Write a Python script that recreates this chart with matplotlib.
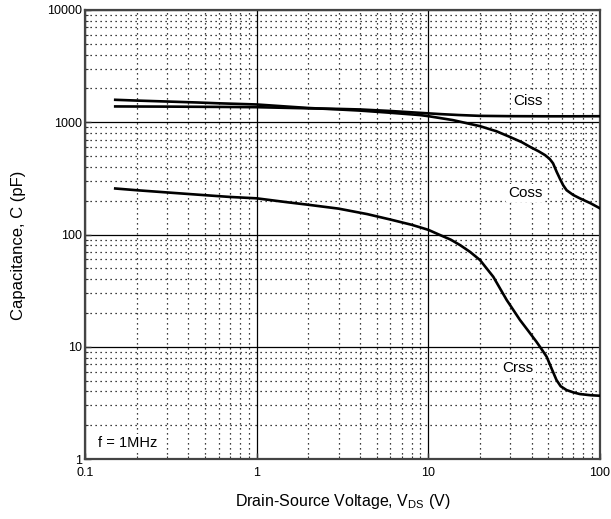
import matplotlib
matplotlib.use("Agg")
import matplotlib.pyplot as plt
from matplotlib.ticker import LogLocator, NullFormatter

plt.rcParams['font.family'] = ['Liberation Sans', 'DejaVu Sans']
plt.rcParams['mathtext.fontset'] = 'custom'
plt.rcParams['mathtext.rm'] = 'Liberation Sans'

ciss_v = [0.15, 0.3, 0.6, 1.0, 2.0, 3.0, 4.0, 6.0, 8.93, 12, 15, 20, 30, 50, 70, 100]
ciss_c = [1383, 1378, 1370, 1362, 1330, 1315, 1300, 1260, 1213, 1180, 1160, 1140, 1133, 1130, 1130, 1132]

coss_v = [0.15, 0.2, 0.3, 0.45, 0.6, 1.0, 1.5, 2.0, 3.0, 4.0, 6.0, 8.93, 10, 13.9, 20, 25, 29.8, 35, 39.1, 44, 47.9,
          51, 53.3, 56, 58.3, 61, 63.9, 69.8, 76.3, 88, 100]
coss_c = [1585, 1560, 1530, 1500, 1475, 1440, 1380, 1340, 1300, 1270, 1215, 1159, 1133, 1045, 923, 830, 741, 665, 604, 550, 509,
          470, 430, 360, 316, 275, 248, 225, 210, 190, 171]

crss_v = [0.15, 0.2, 0.3, 0.5, 0.7, 1.0, 1.5, 2.0, 3.0, 4.4, 6.0, 8.0, 8.93, 10, 11.7, 13.5, 15.3, 17.5, 20, 23.9, 28.6,
          34.2, 38, 42.6, 45.5, 48.9, 52, 55.8, 59, 63.9, 70, 76.3, 88, 100]
crss_c = [257, 248, 237, 224, 216, 210, 194, 184, 170, 152, 136, 122, 116, 110, 98.9, 90, 80.5, 70, 59.2, 42, 26.1,
          17.3, 14.0, 11.1, 9.6, 8.15, 6.5, 5.05, 4.45, 4.11, 3.92, 3.79, 3.7, 3.66]

xticks = [0.1, 1, 10, 100]
xticklabels = ['0.1', '1', '10', '100']
yticks = [1, 10, 100, 1000, 10000]
yticklabels = ['1', '10', '100', '1000', '10000']

fig = plt.figure(figsize=(6.11, 5.19), dpi=100)
ax = fig.add_axes([85/611, 1-459/519, (600-85)/611, (459-10)/519])
ax.set_xscale('log')
ax.set_yscale('log')
ax.set_xlim(0.1, 100)
ax.set_ylim(1, 10000)

ax.set_xticks(xticks)
ax.set_xticklabels(xticklabels)
ax.set_yticks(yticks)
ax.set_yticklabels(yticklabels)
ax.xaxis.set_minor_locator(LogLocator(base=10, subs=range(2, 10)))
ax.yaxis.set_minor_locator(LogLocator(base=10, subs=range(2, 10)))
ax.xaxis.set_minor_formatter(NullFormatter())
ax.yaxis.set_minor_formatter(NullFormatter())

ax.grid(which='major', color='black', linewidth=0.9, linestyle='-')
ax.grid(which='minor', color='black', linewidth=0.9, linestyle=(0, (1, 3)))
ax.set_axisbelow(True)

ax.tick_params(which='both', direction='in', labelsize=9, color='#333333')
ax.tick_params(which='major', length=4, width=1)
ax.tick_params(which='minor', length=2.5, width=0.8)
ax.tick_params(axis='x', pad=6)
ax.tick_params(axis='y', pad=2)
for s in ax.spines.values():
    s.set_linewidth(1.6)
    s.set_color('#444444')

ax.plot(ciss_v, ciss_c, color='black', linewidth=1.9, zorder=3, solid_joinstyle='round')
ax.plot(coss_v, coss_c, color='black', linewidth=1.9, zorder=3, solid_joinstyle='round')
ax.plot(crss_v, crss_c, color='black', linewidth=1.9, zorder=3, solid_joinstyle='round')

bb = dict(facecolor='white', edgecolor='none', pad=1.5)
ax.text(38, 1550, 'Ciss', fontsize=11, ha='center', va='center', bbox=bb, zorder=4)
ax.text(36.6, 234, 'Coss', fontsize=11, ha='center', va='center', bbox=bb, zorder=4)
ax.text(33.3, 6.46, 'Crss', fontsize=11, ha='center', va='center', bbox=bb, zorder=4)
ax.text(0.1186, 1.4, 'f = 1MHz', fontsize=10.5, ha='left', va='center', bbox=bb, zorder=4)

ax.set_xlabel('Drain-Source Voltage, V$_{\\rm DS}$ (V)', fontsize=11.5, labelpad=9)
ax.set_ylabel('Capacitance, C (pF)', fontsize=12)
ax.yaxis.set_label_coords(-0.115, 0.477)

fig.savefig('out.png', dpi=100)
